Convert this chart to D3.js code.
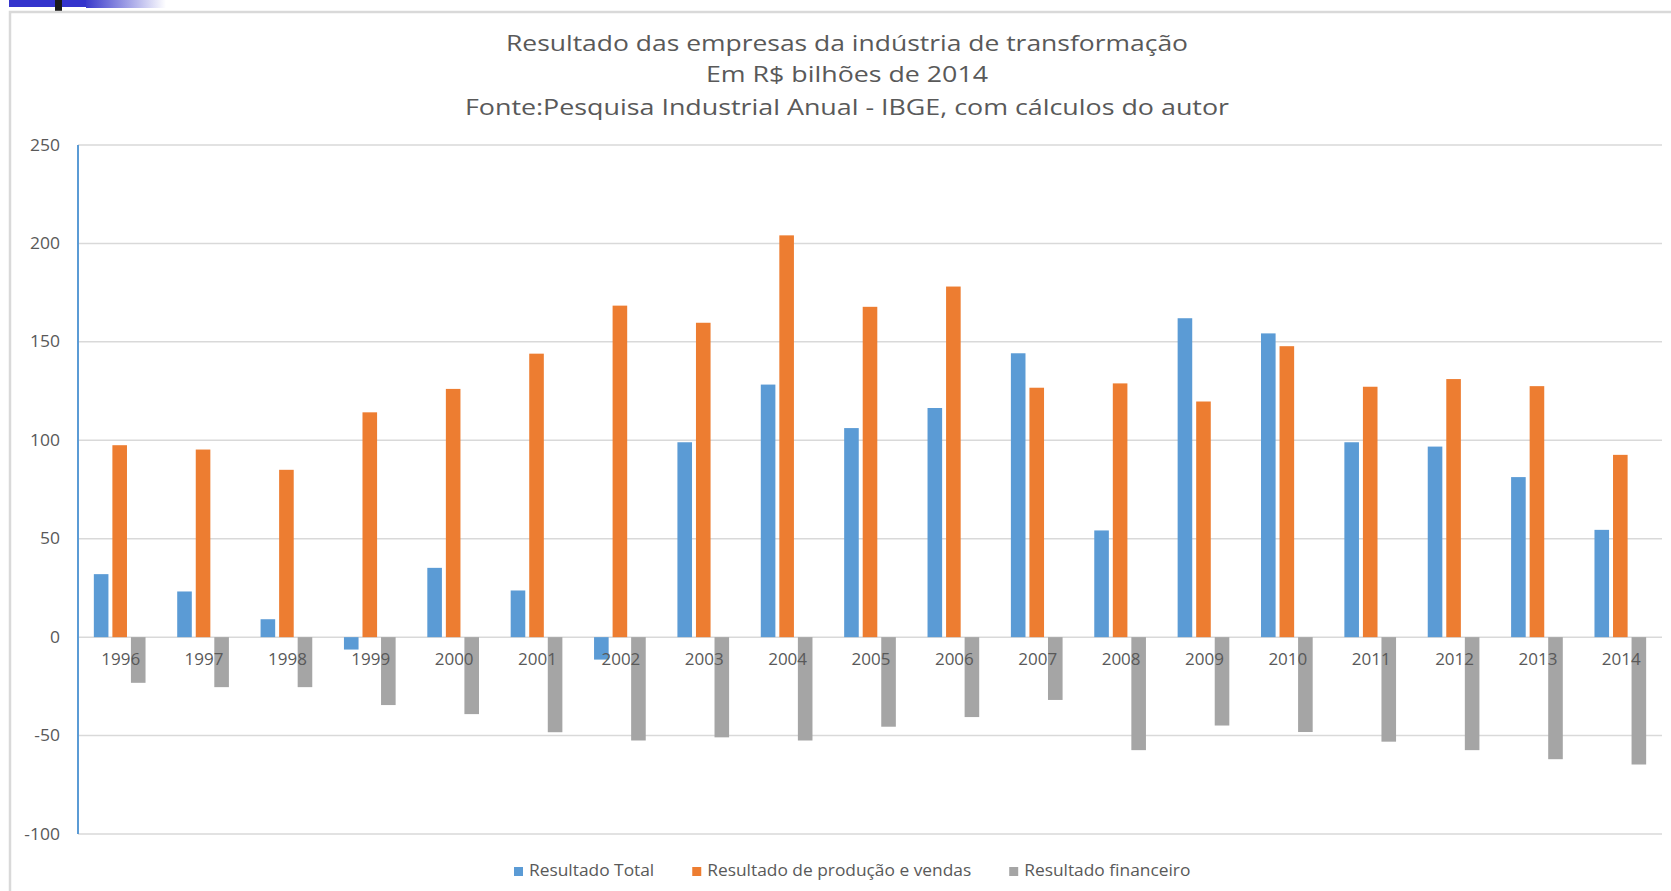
<!DOCTYPE html>
<html>
<head>
<meta charset="utf-8">
<script src="https://cdn.jsdelivr.net/npm/d3@7"></script>
<style>
  html, body { margin: 0; padding: 0; background: #ffffff; }
  svg { display: block; }
</style>
</head>
<body>
<script>
// ---------- DATA ----------
const years = ["1996","1997","1998","1999","2000","2001","2002","2003","2004","2005",
               "2006","2007","2008","2009","2010","2011","2012","2013","2014"];
const seriesNames = ["Resultado Total", "Resultado de produção e vendas", "Resultado financeiro"];
const resultadoTotal = [32, 23.2, 9.1, -6.3, 35.2, 23.7, -11.4, 99, 128.3, 106.2,
                        116.4, 144.2, 54.2, 162, 154.3, 99, 96.8, 81.3, 54.5];
const resultadoProducao = [97.5, 95.3, 85, 114.2, 126.1, 144, 168.4, 159.7, 204.1, 167.8,
                           178.1, 126.7, 128.9, 119.7, 147.8, 127.2, 131.1, 127.5, 92.6];
const resultadoFinanceiro = [-23.2, -25.4, -25.4, -34.5, -39.1, -48.3, -52.5, -50.9, -52.5, -45.5,
                             -40.6, -31.9, -57.4, -44.9, -48.2, -53.1, -57.4, -62, -64.7];
const yTicks = [-100, -50, 0, 50, 100, 150, 200, 250];
const titleLines = [
  "Resultado das empresas da indústria de transformação",
  "Em R$ bilhões de 2014",
  "Fonte:Pesquisa Industrial Anual - IBGE, com cálculos do autor"
];

// ---------- LAYOUT / STYLE ----------
const W = 1671, H = 891;
const colors = ["#5b9bd5", "#ed7d31", "#a5a5a5"];
const textColor = "#595959";
const gridColor = "#d9d9d9";
const font = "'Open Sans', 'Noto Sans', sans-serif";
const plot = { left: 78, right: 1662, top: 145, bottom: 834 };

const seriesValues = [resultadoTotal, resultadoProducao, resultadoFinanceiro];
const table = years.map((y, i) => ({
  year: y,
  values: seriesNames.map((s, k) => ({ series: s, k: k, value: seriesValues[k][i] }))
}));

const svg = d3.select("body").append("svg")
  .attr("width", W).attr("height", H)
  .attr("viewBox", `0 0 ${W} ${H}`);

// background + slide artefacts
svg.append("rect").attr("width", W).attr("height", H).attr("fill", "#ffffff");
const defs = svg.append("defs");
const grad = defs.append("linearGradient").attr("id", "fadeBlue")
  .attr("x1", "0%").attr("x2", "100%").attr("y1", "0%").attr("y2", "0%");
grad.append("stop").attr("offset", "0%").attr("stop-color", "#3a3acb");
grad.append("stop").attr("offset", "100%").attr("stop-color", "#ffffff");
svg.append("rect").attr("x", 9).attr("y", 0).attr("width", 77).attr("height", 7).attr("fill", "#3434cc");
svg.append("rect").attr("x", 86).attr("y", 0).attr("width", 80).attr("height", 8).attr("fill", "url(#fadeBlue)");
svg.append("rect").attr("x", 55).attr("y", 0).attr("width", 7).attr("height", 11).attr("fill", "#1a1a1a");

// chart frame
svg.append("rect").attr("x", 10).attr("y", 12).attr("width", 1700).attr("height", 1000)
  .attr("fill", "#ffffff").attr("stroke", gridColor).attr("stroke-width", 2.5);

// ---------- SCALES ----------
const y = d3.scaleLinear().domain([-100, 250]).range([plot.bottom, plot.top]);
const x0 = d3.scaleBand().domain(years).range([plot.left, plot.right])
  .paddingInner(0.38).paddingOuter(0.19);
const x1 = d3.scaleBand().domain(seriesNames).range([0, x0.bandwidth()])
  .paddingInner(0.213).paddingOuter(0);

// ---------- GRID ----------
svg.append("g").selectAll("line").data(yTicks).join("line")
  .attr("x1", plot.left).attr("x2", plot.right)
  .attr("y1", d => y(d)).attr("y2", d => y(d))
  .attr("stroke", gridColor).attr("stroke-width", 1.5);

// y axis line (blue)
svg.append("line")
  .attr("x1", plot.left).attr("x2", plot.left)
  .attr("y1", y(250)).attr("y2", y(-100))
  .attr("stroke", "#5b9bd5").attr("stroke-width", 2);

// y tick labels
svg.append("g").selectAll("text").data(yTicks).join("text")
  .attr("transform", d => `translate(60,${y(d) + 5.6}) scale(1.13,1)`)
  .attr("text-anchor", "end")
  .attr("font-family", font).attr("font-size", 15.5)
  .attr("fill", textColor)
  .text(d => d3.format("d")(d).replace("−", "-"));

// ---------- BARS ----------
const groups = svg.append("g").selectAll("g").data(table).join("g")
  .attr("transform", d => `translate(${x0(d.year)},0)`);
groups.selectAll("rect").data(d => d.values).join("rect")
  .attr("x", d => x1(d.series))
  .attr("width", x1.bandwidth())
  .attr("y", d => y(Math.max(0, d.value)))
  .attr("height", d => Math.abs(y(d.value) - y(0)))
  .attr("fill", d => colors[d.k]);

// category labels (on top of bars)
svg.append("g").selectAll("text").data(years).join("text")
  .attr("x", d => x0(d) + x0.bandwidth() / 2 + 1)
  .attr("y", 665)
  .attr("text-anchor", "middle")
  .attr("font-family", font).attr("font-size", 17)
  .attr("fill", textColor)
  .text(d => d);

// ---------- TITLE ----------
const titleY = [51, 82, 115];
const titleW = [682, 282, 764];
svg.append("g").selectAll("text").data(titleLines).join("text")
  .attr("x", 847).attr("y", (d, i) => titleY[i])
  .attr("text-anchor", "middle")
  .attr("font-family", font).attr("font-size", 22)
  .attr("fill", textColor)
  .attr("textLength", (d, i) => titleW[i])
  .attr("lengthAdjust", "spacingAndGlyphs")
  .text(d => d);

// ---------- LEGEND ----------
const legend = svg.append("g");
let lx = 514;
seriesNames.forEach((name, k) => {
  legend.append("rect").attr("x", lx).attr("y", 867).attr("width", 9).attr("height", 9)
    .attr("fill", colors[k]);
  const t = legend.append("text")
    .attr("transform", `translate(${lx + 15},876) scale(1.12,1)`)
    .attr("font-family", font).attr("font-size", 15.5)
    .attr("fill", textColor)
    .text(name);
  const w = t.node().getComputedTextLength() * 1.12;
  lx += 15 + w + 38;
});
</script>
</body>
</html>
